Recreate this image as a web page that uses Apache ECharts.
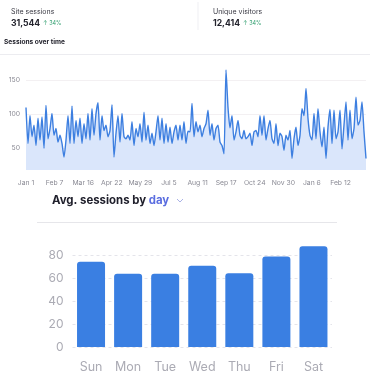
<!DOCTYPE html>
<html>
<head>
<meta charset="utf-8">
<script src="https://cdn.jsdelivr.net/npm/echarts@6/dist/echarts.min.js"></script>
<style>
  html, body { margin: 0; padding: 0; background: #fff; }
  #chart { width: 375px; height: 375px; }
</style>
</head>
<body>
<div id="chart"></div>
<script>
// sessions over time (one reading every ~2.6 days, Jan 1 -> mid March next year)
const sessions = [
  110, 57, 98, 67, 84, 54, 94, 62, 96, 50,
  113, 64, 79, 101, 69, 79, 59, 69, 57, 37,
  62, 98, 57, 112, 57, 91, 67, 94, 57, 86,
  64, 101, 62, 108, 69, 101, 117, 62, 98, 76,
  84, 67, 76, 114, 37, 72, 98, 59, 101, 67,
  64, 69, 62, 89, 54, 79, 67, 86, 59, 103,
  62, 84, 57, 72, 54, 74, 98, 62, 94, 57,
  86, 59, 81, 57, 74, 84, 62, 84, 62, 89,
  57, 75,
  74, 116, 67, 89, 74, 84, 67, 79, 86, 106,
  69, 86, 62, 79, 84, 59, 54, 42, 165, 110,
  80, 98, 62, 74, 91, 69, 64, 76, 64, 67,
  72, 54, 74, 76, 67, 98, 69, 98, 62, 79,
  91, 64, 57, 86, 54, 72, 67, 47, 69, 62,
  76, 35, 64, 81, 54, 69, 108, 98, 138, 94,
  69, 62, 101, 64, 108, 74, 52, 81, 35, 81,
  107, 57, 106, 64, 74, 106, 49, 84, 118, 62,
  106, 64, 79, 125, 84, 91, 118, 74,
  35
];
const totalDays = 440;
const tickLabels = ["Jan 1", "Feb 7", "Mar 16", "Apr 22", "May 29", "Jul 5",
  "Aug 11", "Sep 17", "Oct 24", "Nov 30", "Jan 6", "Feb 12"];

// avg sessions by weekday
const weekDays = ["Sun", "Mon", "Tue", "Wed", "Thu", "Fri", "Sat"];
const avgSessions = [74.5, 64, 64, 71, 64.5, 79, 88];

const chart = echarts.init(document.getElementById("chart"));

const dayStep = totalDays / (sessions.length - 1);
const linePoints = sessions.map((v, i) => [i * dayStep, v]);

const font = "Inter, 'Noto Sans', sans-serif";

const option = {
  animation: false,
  backgroundColor: "#fff",
  textStyle: { fontFamily: font },
  grid: [
    { left: 26, right: 9, top: 68, bottom: 205 },
    { left: 72.5, right: 43, top: 244, bottom: 28 },
  ],
  xAxis: [
    {
      gridIndex: 0,
      type: "value",
      min: 0,
      max: totalDays,
      interval: 37,
      axisLine: { show: false },
      axisTick: { show: false },
      splitLine: { show: false },
      axisLabel: {
        fontSize: 6.8,
        color: "#8a8a94",
        margin: 9,
        showMaxLabel: false,
        formatter: (v) => tickLabels[Math.round(v / 37)] || "",
      },
    },
    {
      gridIndex: 1,
      type: "category",
      data: weekDays,
      axisLine: { show: false },
      axisTick: { show: false },
      axisLabel: { fontSize: 12.5, color: "#ababb4", margin: 14 },
    },
  ],
  yAxis: [
    {
      gridIndex: 0,
      type: "value",
      min: 18,
      max: 168,
      splitNumber: 3,
      axisLine: { show: false },
      axisTick: { show: false },
      axisLabel: {
        fontSize: 6.8,
        color: "#8a8a94",
        margin: 6,
        showMinLabel: false,
        showMaxLabel: false,
      },
      splitLine: {
        showMinLine: false,
        showMaxLine: false,
        lineStyle: { color: "#f3f0f2", width: 1 },
      },
    },
    {
      gridIndex: 1,
      type: "value",
      min: 0,
      max: 90,
      interval: 20,
      axisLine: { show: false },
      axisTick: { show: false },
      axisLabel: {
        fontSize: 12,
        color: "#ababb4",
        margin: 9,
        showMaxLabel: false,
      },
      splitLine: {
        showMaxLine: false,
        lineStyle: { color: "#e4e4ea", type: [3, 3], width: 1 },
      },
    },
  ],
  series: [
    {
      type: "line",
      xAxisIndex: 0,
      yAxisIndex: 0,
      data: linePoints,
      showSymbol: false,
      smooth: 0.2,
      lineStyle: { color: "#3d7fe0", width: 1.4 },
      areaStyle: { color: "#dae6fb", opacity: 1 },
    },
    {
      type: "bar",
      xAxisIndex: 1,
      yAxisIndex: 1,
      data: avgSessions,
      barWidth: 28,
      itemStyle: { color: "#3a7fe2", borderRadius: [3, 3, 0, 0] },
    },
  ],
  graphic: [
    { type: "text", style: { x: 11, y: 12, text: "Site sessions", font: "7px " + font, fill: "#3a3a44", textVerticalAlign: "middle" } },
    { type: "text", style: { x: 11, y: 23.5, text: "31,544", font: "bold 8.6px " + font, fill: "#22222c", textVerticalAlign: "middle" } },
    { type: "text", style: { x: 43, y: 23.5, text: "\u2191 34%", font: "5.5px " + font, fill: "#2f9e6e", textVerticalAlign: "middle" } },
    { type: "text", style: { x: 213, y: 12, text: "Unique visitors", font: "7px " + font, fill: "#3a3a44", textVerticalAlign: "middle" } },
    { type: "text", style: { x: 213, y: 23.5, text: "12,414", font: "bold 8.6px " + font, fill: "#22222c", textVerticalAlign: "middle" } },
    { type: "text", style: { x: 243, y: 23.5, text: "\u2191 34%", font: "5.5px " + font, fill: "#2f9e6e", textVerticalAlign: "middle" } },
    { type: "line", shape: { x1: 198, y1: 2, x2: 198, y2: 30 }, style: { stroke: "#efeff3", lineWidth: 1 } },
    { type: "text", style: { x: 4, y: 42, text: "Sessions over time", font: "bold 6.6px " + font, fill: "#22222c", textVerticalAlign: "middle" } },
    { type: "line", shape: { x1: 0, y1: 54.5, x2: 370, y2: 54.5 }, style: { stroke: "#ececf0", lineWidth: 1 } },
    {
      type: "text",
      style: {
        x: 52, y: 201,
        text: "{a|Avg. sessions by }{b|day}",
        textVerticalAlign: "middle",
        rich: {
          a: { font: "bold 11.4px " + font, fill: "#20202c" },
          b: { font: "bold 11.4px " + font, fill: "#5b6ee0" },
        },
      },
    },
    { type: "polyline", shape: { points: [[177, 199], [180, 202], [183, 199]] }, style: { stroke: "#aab2e6", lineWidth: 1, fill: null } },
    { type: "line", shape: { x1: 37, y1: 222.5, x2: 337, y2: 222.5 }, style: { stroke: "#e6e6ea", lineWidth: 1 } },
  ],
};

chart.setOption(option);
</script>
</body>
</html>
